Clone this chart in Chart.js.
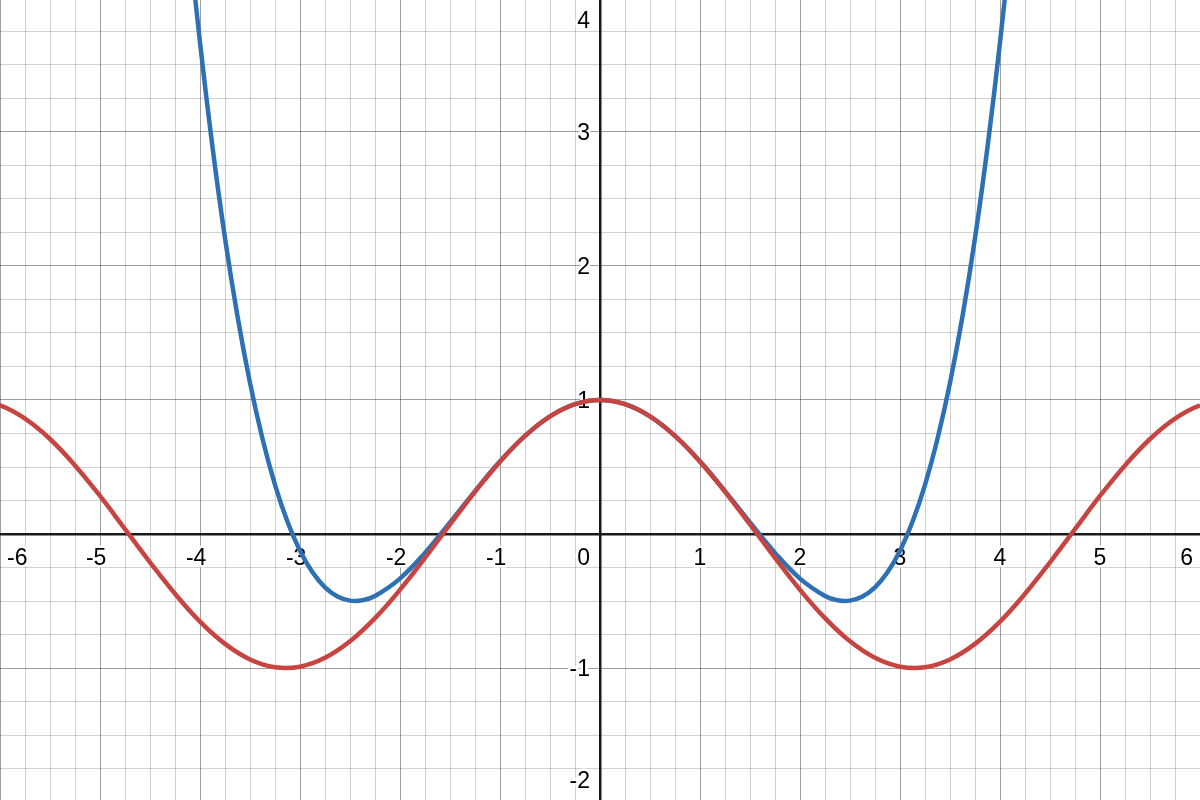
<!DOCTYPE html>
<html>
<head>
<meta charset="utf-8">
<script src="https://cdn.jsdelivr.net/npm/chart.js@4/dist/chart.umd.min.js"></script>
<style>
  html, body { margin: 0; padding: 0; background: #fff; }
  #wrap { width: 1200px; height: 800px; }
</style>
</head>
<body>
<div id="wrap"><canvas id="graph"></canvas></div>
<script>
// red curve (cos x); it runs on past both edges
const cosX = [-6.25, -6, -5.75, -5.5, -5.25, -5, -4.75, -4.5, -4.25, -4, -3.75, -3.5, -3.25, -3, -2.75, -2.5, -2.25, -2, -1.75, -1.5, -1.25, -1, -0.75, -0.5, -0.25,
  0, 0.25, 0.5, 0.75, 1, 1.25, 1.5, 1.75, 2, 2.25, 2.5, 2.75, 3, 3.25, 3.5, 3.75, 4, 4.25, 4.5, 4.75, 5, 5.25, 5.5, 5.75, 6, 6.25];
const cosY = [0.999, 0.960, 0.861, 0.709, 0.512, 0.284, 0.037, -0.211, -0.446, -0.654, -0.820, -0.936, -0.994, -0.990, -0.924, -0.801, -0.628, -0.416, -0.178, 0.071, 0.315, 0.540, 0.732, 0.878, 0.969,
  1.000, 0.969, 0.878, 0.732, 0.540, 0.315, 0.071, -0.178, -0.416, -0.628, -0.801, -0.924, -0.990, -0.994, -0.936, -0.820, -0.654, -0.446, -0.211, 0.037, 0.284, 0.512, 0.709, 0.861, 0.960, 0.999];

// blue curve (4th degree polynomial)
const polyX = [-4.25, -4.125, -4, -3.875, -3.75, -3.625, -3.5, -3.375, -3.25, -3.125, -3, -2.875, -2.75, -2.625, -2.5, -2.375, -2.25, -2, -1.75, -1.5, -1.25, -1, -0.75, -0.5, -0.25,
  0, 0.25, 0.5, 0.75, 1, 1.25, 1.5, 1.75, 2, 2.25, 2.375, 2.5, 2.625, 2.75, 2.875, 3, 3.125, 3.25, 3.375, 3.5, 3.625, 3.75, 3.875, 4, 4.125, 4.25];
const polyY = [5.563, 4.556, 3.667, 2.887, 2.208, 1.625, 1.128, 0.711, 0.367, 0.091, -0.125, -0.286, -0.398, -0.467, -0.497, -0.495, -0.463, -0.333, -0.141, 0.086, 0.320, 0.542, 0.732, 0.878, 0.969,
  1.000, 0.969, 0.878, 0.732, 0.542, 0.320, 0.086, -0.141, -0.333, -0.463, -0.495, -0.497, -0.467, -0.398, -0.286, -0.125, 0.091, 0.367, 0.711, 1.128, 1.625, 2.208, 2.887, 3.667, 4.556, 5.563];

const xTicks = [-6, -5, -4, -3, -2, -1, 1, 2, 3, 4, 5, 6];
const yTicks = [-2, -1, 1, 2, 3, 4];

function toPoints(xs, ys) {
  return xs.map((x, i) => ({ x: x, y: ys[i] }));
}

function gridColor(ctx) {
  const v = ctx.tick.value;
  if (Math.abs(v) < 1e-9) return 'rgba(0,0,0,0)';
  if (Math.abs(v - Math.round(v)) < 1e-9) return 'rgba(0,0,0,0.38)';
  return 'rgba(0,0,0,0.18)';
}

// number labels drawn next to the axes, with a white halo, under the curves
const axisLabels = {
  id: 'axisLabels',
  beforeDatasetsDraw(chart) {
    const ctx = chart.ctx;
    const xs = chart.scales.x;
    const ys = chart.scales.y;
    const area = chart.chartArea;
    const x0 = xs.getPixelForValue(0);
    const y0 = ys.getPixelForValue(0);

    ctx.save();
    ctx.font = '23px "Liberation Sans", Arial, sans-serif';
    ctx.textBaseline = 'alphabetic';
    ctx.lineJoin = 'round';
    ctx.strokeStyle = '#fff';
    ctx.lineWidth = 5;
    ctx.fillStyle = '#000';

    function put(text, x, y) {
      ctx.strokeText(text, x, y);
      ctx.fillText(text, x, y);
    }

    // x axis numbers: digits centred on the gridline, minus hangs left
    ctx.textAlign = 'left';
    xTicks.forEach(v => {
      const label = String(v);
      const full = ctx.measureText(label).width;
      const digits = ctx.measureText(String(Math.abs(v))).width;
      let left = xs.getPixelForValue(v) + digits / 2 - full;
      left = Math.max(area.left + 7, Math.min(left, area.right - 7 - full));
      put(label, left, y0 + 31);
    });

    // y axis numbers: right aligned left of the axis
    ctx.textAlign = 'right';
    yTicks.forEach(v => {
      let base = ys.getPixelForValue(v) + 8;
      base = Math.max(area.top + 28, Math.min(base, area.bottom - 12));
      put(String(v), x0 - 10, base);
    });

    put('0', x0 - 10, y0 + 31);
    ctx.restore();
  }
};

new Chart(document.getElementById('graph'), {
  type: 'scatter',
  data: {
    datasets: [
      {
        label: 'cos x',
        data: toPoints(cosX, cosY),
        showLine: true,
        borderColor: '#c74440',
        borderWidth: 4.5,
        pointRadius: 0,
        tension: 0.4
      },
      {
        label: 'polynomial',
        data: toPoints(polyX, polyY),
        showLine: true,
        borderColor: '#2d70b3',
        borderWidth: 4.5,
        pointRadius: 0,
        tension: 0.4
      }
    ]
  },
  options: {
    responsive: true,
    maintainAspectRatio: false,
    animation: false,
    layout: { padding: 0 },
    plugins: {
      legend: { display: false },
      tooltip: { enabled: false }
    },
    scales: {
      x: {
        type: 'linear',
        position: { y: 0 },
        min: -6,
        max: 6,
        ticks: { display: false, stepSize: 0.25, includeBounds: false },
        grid: { color: gridColor, lineWidth: 1, drawTicks: false },
        border: { display: true, color: '#1a1a1a', width: 2.5 }
      },
      y: {
        type: 'linear',
        position: { x: 0 },
        min: -1.985,
        max: 3.985,
        ticks: { display: false, stepSize: 0.25, includeBounds: false },
        grid: { color: gridColor, lineWidth: 1, drawTicks: false },
        border: { display: true, color: '#1a1a1a', width: 2.5 }
      }
    }
  },
  plugins: [axisLabels]
});
</script>
</body>
</html>
